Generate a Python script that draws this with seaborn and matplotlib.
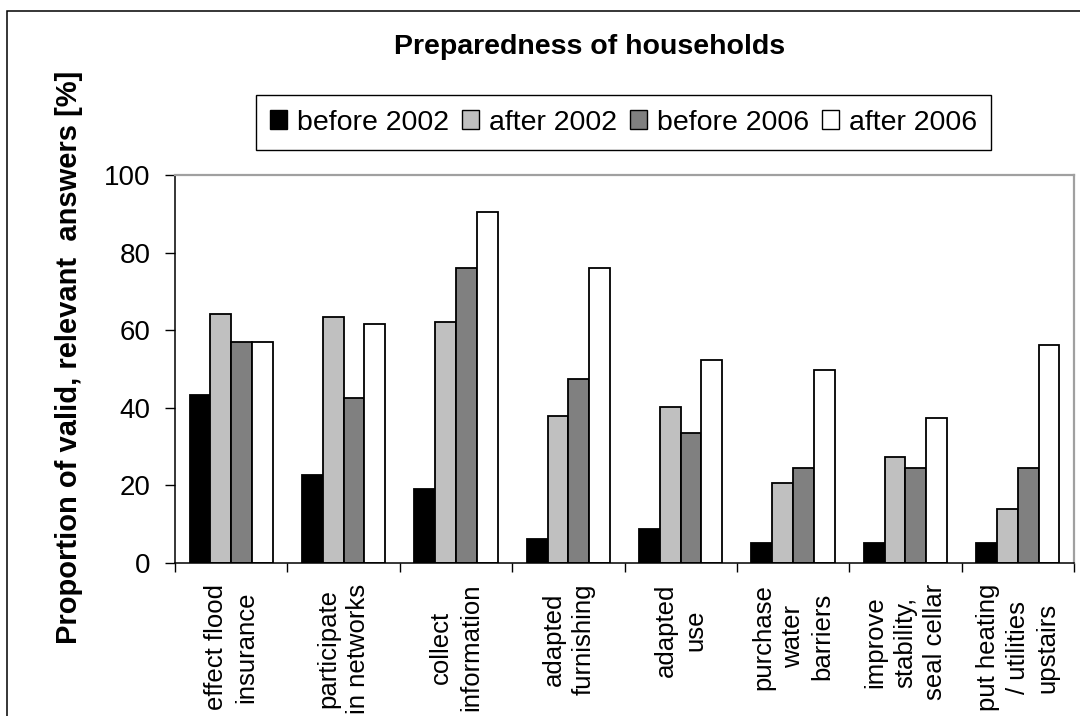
import matplotlib
matplotlib.use("Agg")
import matplotlib.pyplot as plt
from matplotlib.patches import Patch, Rectangle
import numpy as np
import pandas as pd
import seaborn as sns

# Measures taken by households, share of valid answers per period
measures = [
    "effect flood\ninsurance",
    "participate\nin networks",
    "collect\ninformation",
    "adapted\nfurnishing",
    "adapted\nuse",
    "purchase\nwater\nbarriers",
    "improve\nstability,\nseal cellar",
    "put heating\n/ utilities\nupstairs",
]
periods = ["before 2002", "after 2002", "before 2006", "after 2006"]

before_2002 = [43.2, 22.6, 19.0, 6.2, 8.7, 5.1, 5.1, 5.1]
after_2002 = [64.3, 63.3, 62.2, 37.9, 40.1, 20.5, 27.3, 13.8]
before_2006 = [57.0, 42.6, 76.1, 47.3, 33.4, 24.6, 24.6, 24.6]
after_2006 = [57.0, 61.7, 90.4, 76.0, 52.4, 49.8, 37.5, 56.1]

period_colors = ["#000000", "#c0c0c0", "#808080", "#ffffff"]
y_ticks = [0, 20, 40, 60, 80, 100]

title_text = "Preparedness of households"
y_label_text = "Proportion of valid, relevant  answers [%]"

series = [before_2002, after_2002, before_2006, after_2006]
df = pd.DataFrame(
    [(m, p, v) for p, vals in zip(periods, series) for m, v in zip(measures, vals)],
    columns=["measure", "period", "value"],
)

sns.set_theme(style="white")
plt.rcParams["font.family"] = ["Liberation Sans", "DejaVu Sans"]
plt.rcParams["text.color"] = "black"
plt.rcParams["xtick.color"] = "black"
plt.rcParams["ytick.color"] = "black"

W, H = 1080, 716
fig = plt.figure(figsize=(W / 100, H / 100), dpi=100)
fig.patch.set_facecolor("white")

ax = fig.add_axes([175 / W, 1 - 563 / H, (1074 - 175) / W, (563 - 175) / H])

sns.barplot(
    data=df, x="measure", y="value", hue="period",
    order=measures, hue_order=periods,
    palette=dict(zip(periods, period_colors)),
    width=0.74, edgecolor="black", linewidth=1.3,
    saturation=1, errorbar=None, legend=False, ax=ax,
)

ax.set_ylim(0, 100)
ax.set_xlim(-0.5, len(measures) - 0.5)
ax.set_yticks(y_ticks)
ax.set_yticklabels([str(t) for t in y_ticks], fontsize=20)
ax.tick_params(axis="y", left=True, direction="out", length=7.2, width=1.0,
               color="black", pad=10.5, labelcolor="black")

# category labels centred under each group, separators at group edges
ax.set_xticks(range(len(measures)))
ax.set_xticklabels(measures, rotation=90, fontsize=18.5, ha="center",
                   va="top", multialignment="center", linespacing=1.3,
                   color="black")
ax.tick_params(axis="x", which="major", length=0, pad=15)
ax.set_xticks(np.arange(-0.5, len(measures), 1.0), minor=True)
ax.tick_params(axis="x", which="minor", bottom=True, direction="out",
               length=6.5, width=1.0, color="black")
ax.set_xlabel("")
ax.set_ylabel("")

for side in ("left", "bottom"):
    ax.spines[side].set_color("black")
    ax.spines[side].set_linewidth(1.1)
for side in ("top", "right"):
    ax.spines[side].set_color("#a0a0a0")
    ax.spines[side].set_linewidth(1.6)
    ax.spines[side].set_visible(True)

handles = [Patch(facecolor=c, edgecolor="black", linewidth=1.0) for c in period_colors]
leg = fig.legend(
    handles, periods, ncol=4, loc="center",
    bbox_to_anchor=(623.5 / W, 1 - 122.5 / H),
    fontsize=20.5, frameon=True, fancybox=False, edgecolor="black",
    framealpha=1, handlelength=0.6, handleheight=0.6, handletextpad=0.35,
    columnspacing=0.45, borderpad=0.5, borderaxespad=0,
)
leg.get_frame().set_linewidth(1.0)

fig.text(590 / W, 1 - 47 / H, title_text, ha="center", va="center",
         fontsize=20.5, fontweight="bold")
fig.text(69 / W, 1 - 357 / H, y_label_text, ha="center", va="center",
         rotation=90, fontsize=21, fontweight="bold")

# outer chart frame
fig.patches.append(Rectangle((7 / W, -0.2), 1.2, 1.2 - 11 / H,
                             transform=fig.transFigure, fill=False,
                             edgecolor="black", linewidth=1.1))

fig.savefig("out.png", dpi=100, facecolor="white")
